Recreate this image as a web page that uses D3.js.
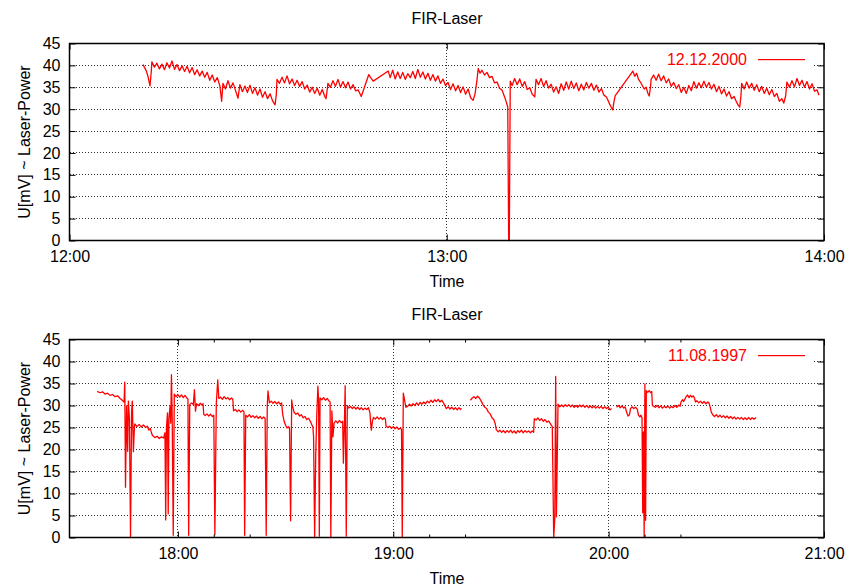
<!DOCTYPE html>
<html>
<head>
<meta charset="utf-8">
<script src="https://cdn.jsdelivr.net/npm/d3@7"></script>
<style>
  body { margin: 0; background: #fff; }
  svg { display: block; font-family: "Liberation Sans", Arial, Helvetica, sans-serif; }
</style>
</head>
<body>
<svg class="FIRLaser" width="849" height="587"></svg>
<script>
// time in minutes after midnight, value in mV
let laser2000 = [
  [731.7,40.2],[731.9,39.6],[732.2,38.8],[732.5,37.4],[732.8,35.3],[733.0,38.5],[733.1,40.8],[733.5,39.6],[733.9,40.5],[734.3,39.2],
  [734.7,40.3],[735.1,39.0],[735.5,40.6],[735.9,39.4],[736.3,41.0],[736.7,39.1],[737.1,40.2],[737.5,38.8],[737.9,39.9],[738.3,38.6],
  [738.7,39.8],[739.1,38.3],[739.5,39.5],[739.9,37.9],[740.3,39.0],[740.7,37.6],[741.1,38.7],[741.5,37.3],[741.9,38.4],[742.3,36.6],
  [742.7,37.8],[743.1,36.2],[743.5,37.2],[743.9,35.4],[744.2,31.8],[744.4,35.9],[744.8,34.6],[745.2,36.5],[745.6,34.8],[746.0,36.0],
  [746.4,34.3],[746.8,32.5],[747.1,35.6],[747.5,34.0],[747.9,35.3],[748.3,33.8],[748.7,35.5],[749.1,33.6],[749.5,34.9],[749.9,33.2],
  [750.3,34.6],[750.7,32.7],[751.1,34.0],[751.5,32.4],[751.9,33.5],[752.3,31.9],[752.7,31.0],[752.9,33.5],[753.0,36.8],
  [753.4,35.9],[753.8,37.3],[754.2,36.0],[754.6,37.6],[755.0,35.8],[755.4,36.9],[755.8,35.4],[756.2,36.6],[756.6,35.2],[757.0,36.3],
  [757.4,34.6],[757.8,35.5],[758.2,33.9],[758.6,35.0],[759.0,33.6],[759.4,34.8],[759.8,33.2],[760.2,34.5],[760.6,32.9],[760.8,32.4],
  [761.0,34.6],[761.1,35.9],[761.5,35.0],[761.9,36.5],[762.3,35.2],[762.7,36.8],[763.1,35.0],[763.5,36.3],[763.9,34.9],[764.3,36.2],
  [764.7,34.6],[765.1,35.6],[765.5,34.2],[765.9,34.4],[766.2,33.5],[766.4,32.9],
  [767.6,37.9],[767.9,37.2],[768.3,36.4],[770.7,38.7],
  [771.0,37.2],[771.4,38.9],[771.8,36.9],[772.2,38.5],[772.6,37.0],[773.0,38.4],[773.4,36.8],[773.8,38.1],[774.2,37.2],[774.6,38.6],
  [775.0,37.0],[775.4,39.1],[775.8,37.3],[776.2,38.5],[776.6,36.9],[777.0,38.2],[777.4,36.6],[777.8,37.9],[778.2,36.4],[778.6,37.6],
  [779.0,35.9],[779.4,36.9],[779.8,35.4],[780.2,36.1],[780.6,34.5],[781.0,35.8],[781.4,34.2],[781.8,35.4],[782.2,33.8],[782.6,35.1],
  [783.0,33.4],[783.4,34.6],[783.8,32.6],[784.2,32.0],[784.5,33.5],[784.8,36.5],[785.0,39.3],[785.3,38.2],[785.6,38.9],[786.0,37.8],
  [786.4,38.4],[786.8,37.2],[787.2,37.5],[787.6,36.0],[788.0,36.2],[788.4,34.8],[788.8,34.3],[789.2,32.8],[789.5,31.5],[789.7,30.5],
  [789.85,0],[789.95,0],[790.1,36.4],
  [790.4,35.4],[790.8,37.0],[791.2,35.6],[791.6,36.9],[792.0,35.2],[792.4,36.3],[792.8,34.5],[793.2,34.9],[793.6,33.4],[794.0,32.8],
  [794.2,36.8],[794.6,35.6],[795.0,37.0],[795.4,35.2],[795.8,36.5],[796.2,34.8],[796.6,35.7],[797.0,33.9],[797.4,35.1],[797.8,33.6],
  [798.2,35.8],[798.6,34.3],[799.0,36.2],[799.4,34.6],[799.8,36.4],[800.2,34.7],[800.6,36.0],[801.0,34.2],[801.4,35.7],[801.8,34.4],
  [802.2,36.1],[802.6,34.8],[803.0,35.9],[803.4,34.3],[803.8,35.5],[804.2,33.9],[804.6,34.7],[805.0,33.2],[805.4,32.8],[805.8,31.5],
  [806.1,30.6],[806.4,29.8],[806.6,31.8],[806.8,33.1],
  [809.6,38.7],[809.9,37.5],[810.2,38.2],[810.5,36.8],[810.8,36.2],[811.1,35.4],[811.4,34.6],[811.7,35.0],[812.0,33.6],[812.2,33.0],
  [812.4,35.0],[812.5,36.8],
  [812.9,37.8],[813.3,36.6],[813.7,38.0],[814.1,36.5],[814.5,37.6],[814.9,36.0],[815.3,36.9],[815.7,35.2],[816.1,36.1],[816.5,34.7],
  [816.9,35.6],[817.3,33.8],[817.7,35.0],[818.1,33.6],[818.5,35.4],[818.9,34.2],[819.3,36.3],[819.7,34.8],[820.1,36.0],[820.5,34.9],
  [820.9,36.4],[821.3,35.0],[821.7,36.1],[822.1,34.6],[822.5,35.7],[822.9,34.0],[823.3,35.2],[823.7,33.5],[824.1,34.6],[824.5,33.0],
  [824.9,34.0],[825.3,32.4],[825.7,32.9],[826.1,31.6],[826.4,30.8],[826.6,30.5],[826.8,33.2],[826.9,35.9],
  [827.3,34.6],[827.7,36.2],[828.1,34.8],[828.5,35.9],[828.9,34.3],[829.3,35.6],[829.7,34.0],[830.1,35.2],[830.5,33.6],[830.9,34.8],
  [831.3,33.3],[831.7,34.5],[832.1,32.9],[832.5,33.6],[832.9,31.8],[833.3,32.4],[833.6,31.4],[833.9,33.0],[834.1,36.2],[834.5,35.0],
  [834.9,36.5],[835.3,35.1],[835.7,37.0],[836.1,35.4],[836.5,36.6],[836.9,35.0],[837.3,36.3],[837.7,34.6],[838.1,35.8],[838.5,34.1],
  [838.9,34.4],[839.2,33.2]
];

// null marks a break in the recording
let laser1997 = [
  [1057.5,33.2],[1058.3,32.9],[1059.0,33.1],[1059.7,32.6],[1060.4,32.8],[1061.1,32.3],[1061.8,32.5],[1062.5,32.0],[1063.2,32.2],[1063.9,31.6],
  [1064.5,31.2],[1065.0,30.8],[1065.2,35.3],[1065.4,11.4],[1065.7,29.9],[1066.0,19.6],[1066.2,31.0],[1066.5,27.0],[1066.8,0],[1067.1,28.6],
  [1067.3,31.0],[1067.6,19.5],[1067.9,25.3],[1068.0,25.8],[1068.6,25.2],[1069.2,25.7],[1069.8,25.1],[1070.4,25.6],[1071.0,25.0],[1071.5,25.3],
  [1071.9,24.4],[1072.3,24.8],[1072.7,23.6],[1073.0,23.1],[1073.6,22.7],[1074.2,23.0],[1074.8,22.5],[1075.4,22.9],[1076.0,22.6],
  [1076.4,23.8],[1076.6,4.0],[1076.8,24.8],[1077.1,28.3],[1077.3,5.4],[1077.5,27.0],[1077.8,29.8],[1078.0,26.0],[1078.2,37.0],[1078.4,28.0],
  [1078.7,0.5],[1079.0,32.6],[1079.5,32.0],[1080.0,32.5],[1080.5,31.9],[1081.0,32.4],[1081.5,31.8],[1082.0,32.3],[1082.5,31.7],[1082.8,31.5],
  [1083.0,0.5],[1083.3,30.2],[1083.8,30.6],[1084.3,30.2],[1084.6,33.6],[1084.9,28.7],[1085.2,30.4],[1085.7,30.0],[1086.2,30.5],[1086.7,30.1],
  [1087.0,30.4],[1087.2,28.0],[1087.6,27.7],[1088.1,28.1],[1088.6,27.6],[1089.1,28.0],[1089.6,27.5],[1090.0,27.8],[1090.3,0.6],[1090.7,30.5],
  [1091.1,35.8],[1091.4,31.6],[1091.9,31.9],[1092.4,31.4],[1092.9,32.0],[1093.4,31.5],[1093.9,31.8],[1094.4,31.3],[1094.9,31.7],[1095.3,31.4],
  [1095.5,28.8],[1096.0,29.1],[1096.5,28.6],[1097.0,29.0],[1097.5,28.5],[1098.0,28.9],[1098.4,28.6],[1098.6,0.5],[1098.9,27.8],[1099.4,27.4],
  [1099.9,27.9],[1100.4,27.3],[1100.9,27.7],[1101.4,27.2],[1101.9,27.6],[1102.4,27.1],[1102.9,27.5],[1103.4,27.0],[1103.9,27.4],[1104.3,27.0],
  [1104.6,0.5],[1104.9,30.0],[1105.1,33.3],[1105.5,30.6],[1106.0,31.0],[1106.5,30.5],[1107.0,30.9],[1107.5,30.4],[1108.0,30.8],[1108.5,30.3],
  [1108.9,30.6],[1109.2,28.0],[1109.6,26.4],[1110.0,25.5],[1110.4,24.9],[1110.8,25.2],[1111.1,24.7],[1111.4,3.8],[1111.7,31.3],[1111.9,30.0],
  [1112.4,28.4],[1112.9,28.0],[1113.4,28.3],[1113.9,27.6],[1114.4,27.9],[1114.9,27.2],[1115.4,27.5],[1115.9,26.8],[1116.4,27.1],[1116.9,26.4],
  [1117.3,25.6],[1117.6,25.2],[1117.8,22.9],[1118.1,0],[1118.4,19.0],[1118.7,28.0],[1119.0,34.4],[1119.2,31.0],[1119.4,0.3],[1119.6,31.7],
  [1120.1,31.3],[1120.6,31.8],[1121.1,31.2],[1121.6,31.6],[1122.1,31.0],[1122.4,30.8],[1122.6,0],[1122.9,28.8],[1123.2,22.9],[1123.5,26.0],
  [1124.0,26.5],[1124.5,26.0],[1125.0,26.6],[1125.5,26.1],[1125.9,26.4],[1126.1,16.9],[1126.4,26.5],[1126.6,34.5],[1126.9,0.3],[1127.2,30.0],
  [1127.6,29.4],[1128.1,29.8],[1128.6,29.3],[1129.1,29.7],[1129.6,29.2],[1130.1,29.6],[1130.6,29.1],[1131.1,29.5],[1131.6,29.0],[1132.1,29.4],
  [1132.6,29.1],[1133.1,29.5],[1133.5,28.3],[1133.7,26.0],[1133.9,24.4],[1134.2,26.5],[1134.5,27.3],[1135.0,26.9],[1135.5,27.4],[1136.0,26.9],
  [1136.5,27.3],[1137.0,26.8],[1137.5,27.2],[1137.8,26.9],[1138.0,25.3],[1138.5,25.0],[1139.0,25.3],[1139.5,24.8],[1140.0,25.2],[1140.5,24.7],
  [1141.0,25.1],[1141.5,24.6],[1142.0,24.9],[1142.3,24.5],[1142.5,0],[1142.8,32.8],[1143.2,31.0],[1143.5,29.6],
  [1144.0,29.8],[1144.5,30.3],[1145.0,29.9],[1145.5,30.4],[1146.0,30.0],[1146.5,30.6],[1147.0,30.1],[1147.5,30.7],[1148.0,30.3],[1148.5,30.8],
  [1149.0,30.4],[1149.5,31.0],[1150.0,30.6],[1150.5,31.2],[1151.0,30.7],[1151.5,31.3],[1152.0,30.9],[1152.5,31.4],[1153.0,30.8],[1153.5,31.2],
  [1154.0,30.6],[1154.4,29.9],[1154.8,29.3],[1155.3,29.7],[1155.8,29.2],[1156.3,29.6],[1156.8,29.1],[1157.3,29.5],[1157.8,29.0],[1158.3,29.5],
  [1158.7,29.1],[1159.0,29.4],[1159.3,null],
  [1161.5,31.2],[1162.0,31.7],[1162.5,32.0],[1163.0,31.6],[1163.5,32.1],[1164.0,31.7],[1164.5,31.0],[1165.0,30.2],[1165.5,29.6],[1166.0,29.3],
  [1166.5,28.5],[1167.0,28.1],[1167.5,27.2],[1168.0,26.8],[1168.4,25.9],[1168.7,24.5],[1169.2,24.0],[1169.7,24.4],[1170.2,23.9],[1170.7,24.3],
  [1171.2,23.8],[1171.7,24.3],[1172.2,23.9],[1172.7,24.4],[1173.2,23.8],[1173.7,24.2],[1174.2,23.7],[1174.7,24.3],[1175.2,23.9],[1175.7,24.4],
  [1176.2,23.8],[1176.7,24.3],[1177.2,23.9],[1177.7,24.2],[1178.2,23.8],[1178.7,24.2],[1179.1,23.9],[1179.3,27.0],[1179.8,26.7],[1180.3,27.2],
  [1180.8,26.6],[1181.3,27.0],[1181.8,26.4],[1182.3,26.8],[1182.8,26.2],[1183.3,26.5],[1183.8,25.8],[1184.3,25.2],[1184.7,0],[1185.0,4.4],
  [1185.25,36.6],[1185.45,4.7],[1185.9,30.3],
  [1186.4,29.7],[1186.9,30.1],[1187.4,29.7],[1187.9,30.2],[1188.4,29.8],[1188.9,30.2],[1189.4,29.7],[1189.9,30.1],[1190.4,29.6],[1190.9,30.0],
  [1191.4,29.6],[1191.9,30.1],[1192.4,29.7],[1192.9,30.1],[1193.4,29.6],[1193.9,30.0],[1194.4,29.5],[1194.9,29.9],[1195.4,29.5],[1195.9,29.9],
  [1196.4,29.4],[1196.9,29.8],[1197.4,29.4],[1197.9,29.8],[1198.4,29.3],[1198.9,29.7],[1199.4,29.3],[1199.9,29.6],[1200.4,29.0],[1200.8,29.3],
  [1201.0,null],
  [1202.2,29.6],[1202.7,30.0],[1203.2,29.5],[1203.7,29.9],[1204.2,29.4],[1204.6,29.7],[1205.0,28.5],[1205.4,27.6],[1205.8,27.9],[1206.1,29.3],
  [1206.5,29.7],[1207.0,29.3],[1207.5,29.6],[1208.0,29.1],[1208.3,27.8],[1208.7,27.4],[1209.0,27.8],[1209.3,27.2],[1209.5,5.6],[1209.7,24.0],
  [1209.9,0],[1210.1,34.9],[1210.3,3.9],[1210.5,33.4],[1210.9,33.0],[1211.3,33.4],[1211.7,32.9],[1212.0,33.2],[1212.2,30.0],[1212.6,29.8],
  [1213.0,29.6],[1213.5,30.0],[1214.0,29.5],[1214.5,29.9],[1215.0,29.4],[1215.5,29.8],[1216.0,29.5],[1216.5,29.9],[1217.0,29.4],[1217.5,29.8],
  [1218.0,29.5],[1218.5,30.0],[1219.0,29.6],[1219.5,30.1],[1219.9,29.8],[1220.2,30.9],[1220.6,31.3],[1220.9,30.9],[1221.2,31.4],[1221.6,32.0],
  [1222.0,32.4],[1222.4,31.8],[1222.8,32.3],[1223.2,31.9],[1223.6,32.2],[1223.9,31.7],[1224.2,30.8],[1224.6,31.1],[1225.1,30.6],[1225.6,31.0],
  [1226.1,30.5],[1226.6,30.9],[1227.1,30.4],[1227.6,30.8],[1228.0,30.5],[1228.3,29.6],[1228.6,28.5],[1229.0,27.9],[1229.5,27.5],[1230.0,27.9],
  [1230.5,27.4],[1231.0,27.8],[1231.5,27.3],[1232.0,27.7],[1232.5,27.2],[1233.0,27.6],[1233.5,27.1],[1234.0,27.5],[1234.5,27.0],[1235.0,27.4],
  [1235.5,26.9],[1236.0,27.3],[1236.5,26.9],[1237.0,27.3],[1237.5,26.8],[1238.0,27.2],[1238.5,26.8],[1239.0,27.3],[1239.5,26.8],[1240.0,27.2],
  [1240.5,26.9],[1241.1,27.3]
];

let yTicks = [0, 5, 10, 15, 20, 25, 30, 35, 40, 45];
let topXTicks = [720, 780, 840];          // 12:00 13:00 14:00
let bottomXTicks = [1080, 1140, 1200, 1260]; // 18:00 .. 21:00
let bottomMinorTicks = [1090, 1100, 1150, 1160, 1210, 1220];
let dateLabels = ['12.12.2000', '11.08.1997'];

let plotLeft = 69.5, plotRight = 824;
let fontStack = '"Liberation Sans", Arial, Helvetica, sans-serif';

let SVG = d3.select('svg.FIRLaser');

SVG.append('rect')
  .attr('width', 849)
  .attr('height', 587)
  .attr('fill', '#fff');

function hhmm(m){
  let h = Math.floor(m / 60), mm = Math.round(m % 60);
  return String(h).padStart(2, '0') + ':' + String(mm).padStart(2, '0');
}

function drawPanel(selection, p){
  let x = d3.scaleLinear().domain(p.domain).range([plotLeft, plotRight]);
  let y = d3.scaleLinear().domain([0, 45]).range([p.bottom, p.top]);

  let g = selection.append('g').attr('class', 'panel');

  // dotted grid
  let grid = g.append('g').attr('class', 'grid')
    .attr('stroke', '#333')
    .attr('stroke-width', 1)
    .attr('stroke-dasharray', '1,2')
    .attr('shape-rendering', 'crispEdges');

  grid.selectAll('line.hgrid')
    .data(yTicks.filter(d => d > 0 && d < 45))
    .enter()
    .append('line')
    .attr('class', 'hgrid')
    .attr('x1', plotLeft)
    .attr('x2', plotRight)
    .attr('y1', d => Math.floor(y(d)) + 0.5)
    .attr('y2', d => Math.floor(y(d)) + 0.5);

  grid.selectAll('line.vgrid')
    .data(p.xTicks.filter(d => d > p.domain[0] && d < p.domain[1]))
    .enter()
    .append('line')
    .attr('class', 'vgrid')
    .attr('x1', d => Math.floor(x(d)) + 0.5)
    .attr('x2', d => Math.floor(x(d)) + 0.5)
    .attr('y1', p.top)
    .attr('y2', p.bottom);

  // key box clears the grid behind it
  let keyY = p.top + 16;
  g.append('rect')
    .attr('x', 650)
    .attr('y', keyY - 11)
    .attr('width', 163)
    .attr('height', 22)
    .attr('fill', '#fff');

  // the recording
  let line = d3.line()
    .defined(d => d[1] !== null)
    .x(d => x(d[0]))
    .y(d => y(d[1]));

  g.append('path')
    .datum(p.data)
    .attr('class', 'laser')
    .attr('d', line)
    .attr('fill', 'none')
    .attr('stroke', '#ff0000')
    .attr('stroke-width', 1.3)
    .attr('stroke-linejoin', 'round');

  // axes: ticks point inward
  g.append('g')
    .attr('transform', `translate(${plotLeft},0)`)
    .call(d3.axisLeft(y).tickValues(yTicks).tickSize(-6).tickPadding(9))
    .call(a => a.select('.domain').remove());

  g.append('g')
    .attr('transform', `translate(${plotRight},0)`)
    .call(d3.axisRight(y).tickValues(yTicks).tickSize(-6).tickFormat(''))
    .call(a => a.select('.domain').remove());

  g.append('g')
    .attr('transform', `translate(0,${p.bottom})`)
    .call(d3.axisBottom(x).tickValues(p.xTicks).tickSize(-6).tickPadding(10).tickFormat(hhmm))
    .call(a => a.select('.domain').remove());

  g.append('g')
    .attr('transform', `translate(0,${p.top})`)
    .call(d3.axisTop(x).tickValues(p.xTicks).tickSize(-6).tickFormat(''))
    .call(a => a.select('.domain').remove());

  if (p.minor.length){
    g.append('g')
      .attr('transform', `translate(0,${p.bottom})`)
      .call(d3.axisBottom(x).tickValues(p.minor).tickSize(-3).tickFormat(''))
      .call(a => a.select('.domain').remove());
    g.append('g')
      .attr('transform', `translate(0,${p.top})`)
      .call(d3.axisTop(x).tickValues(p.minor).tickSize(-3).tickFormat(''))
      .call(a => a.select('.domain').remove());
  }

  g.selectAll('.tick text')
    .attr('font-size', 16)
    .attr('font-family', fontStack)
    .attr('fill', '#000');
  g.selectAll('.tick line')
    .attr('stroke', '#000');

  // border
  g.append('rect')
    .attr('x', plotLeft)
    .attr('y', p.top)
    .attr('width', plotRight - plotLeft)
    .attr('height', p.bottom - p.top)
    .attr('fill', 'none')
    .attr('stroke', '#000')
    .attr('stroke-width', 1.5);

  // key
  g.append('text')
    .attr('x', 747)
    .attr('y', keyY)
    .attr('dy', '0.35em')
    .attr('text-anchor', 'end')
    .attr('font-size', 16)
    .attr('fill', '#ff0000')
    .text(p.label);

  g.append('rect')
    .attr('class', 'keyLine')
    .attr('x', 758)
    .attr('y', keyY - 0.5)
    .attr('width', 47)
    .attr('height', 1.2)
    .attr('fill', '#ff0000');

  // titles
  g.append('text')
    .attr('x', 447)
    .attr('y', p.top - 20)
    .attr('text-anchor', 'middle')
    .attr('font-size', 16)
    .text('FIR-Laser');

  g.append('text')
    .attr('x', 447)
    .attr('y', p.bottom + 46)
    .attr('text-anchor', 'middle')
    .attr('font-size', 16)
    .text('Time');

  g.append('text')
    .attr('transform', `translate(24,${(p.top + p.bottom) / 2}) rotate(-90)`)
    .attr('dy', '0.35em')
    .attr('text-anchor', 'middle')
    .attr('font-size', 16)
    .text('U[mV] ~ Laser-Power');
}

drawPanel(SVG, {
  top: 43.5, bottom: 240.5,
  domain: [720, 840],
  xTicks: topXTicks, minor: [],
  data: laser2000, label: dateLabels[0]
});

drawPanel(SVG, {
  top: 339.5, bottom: 537.5,
  domain: [1049.8, 1260],
  xTicks: bottomXTicks, minor: bottomMinorTicks,
  data: laser1997, label: dateLabels[1]
});
</script>
</body>
</html>
